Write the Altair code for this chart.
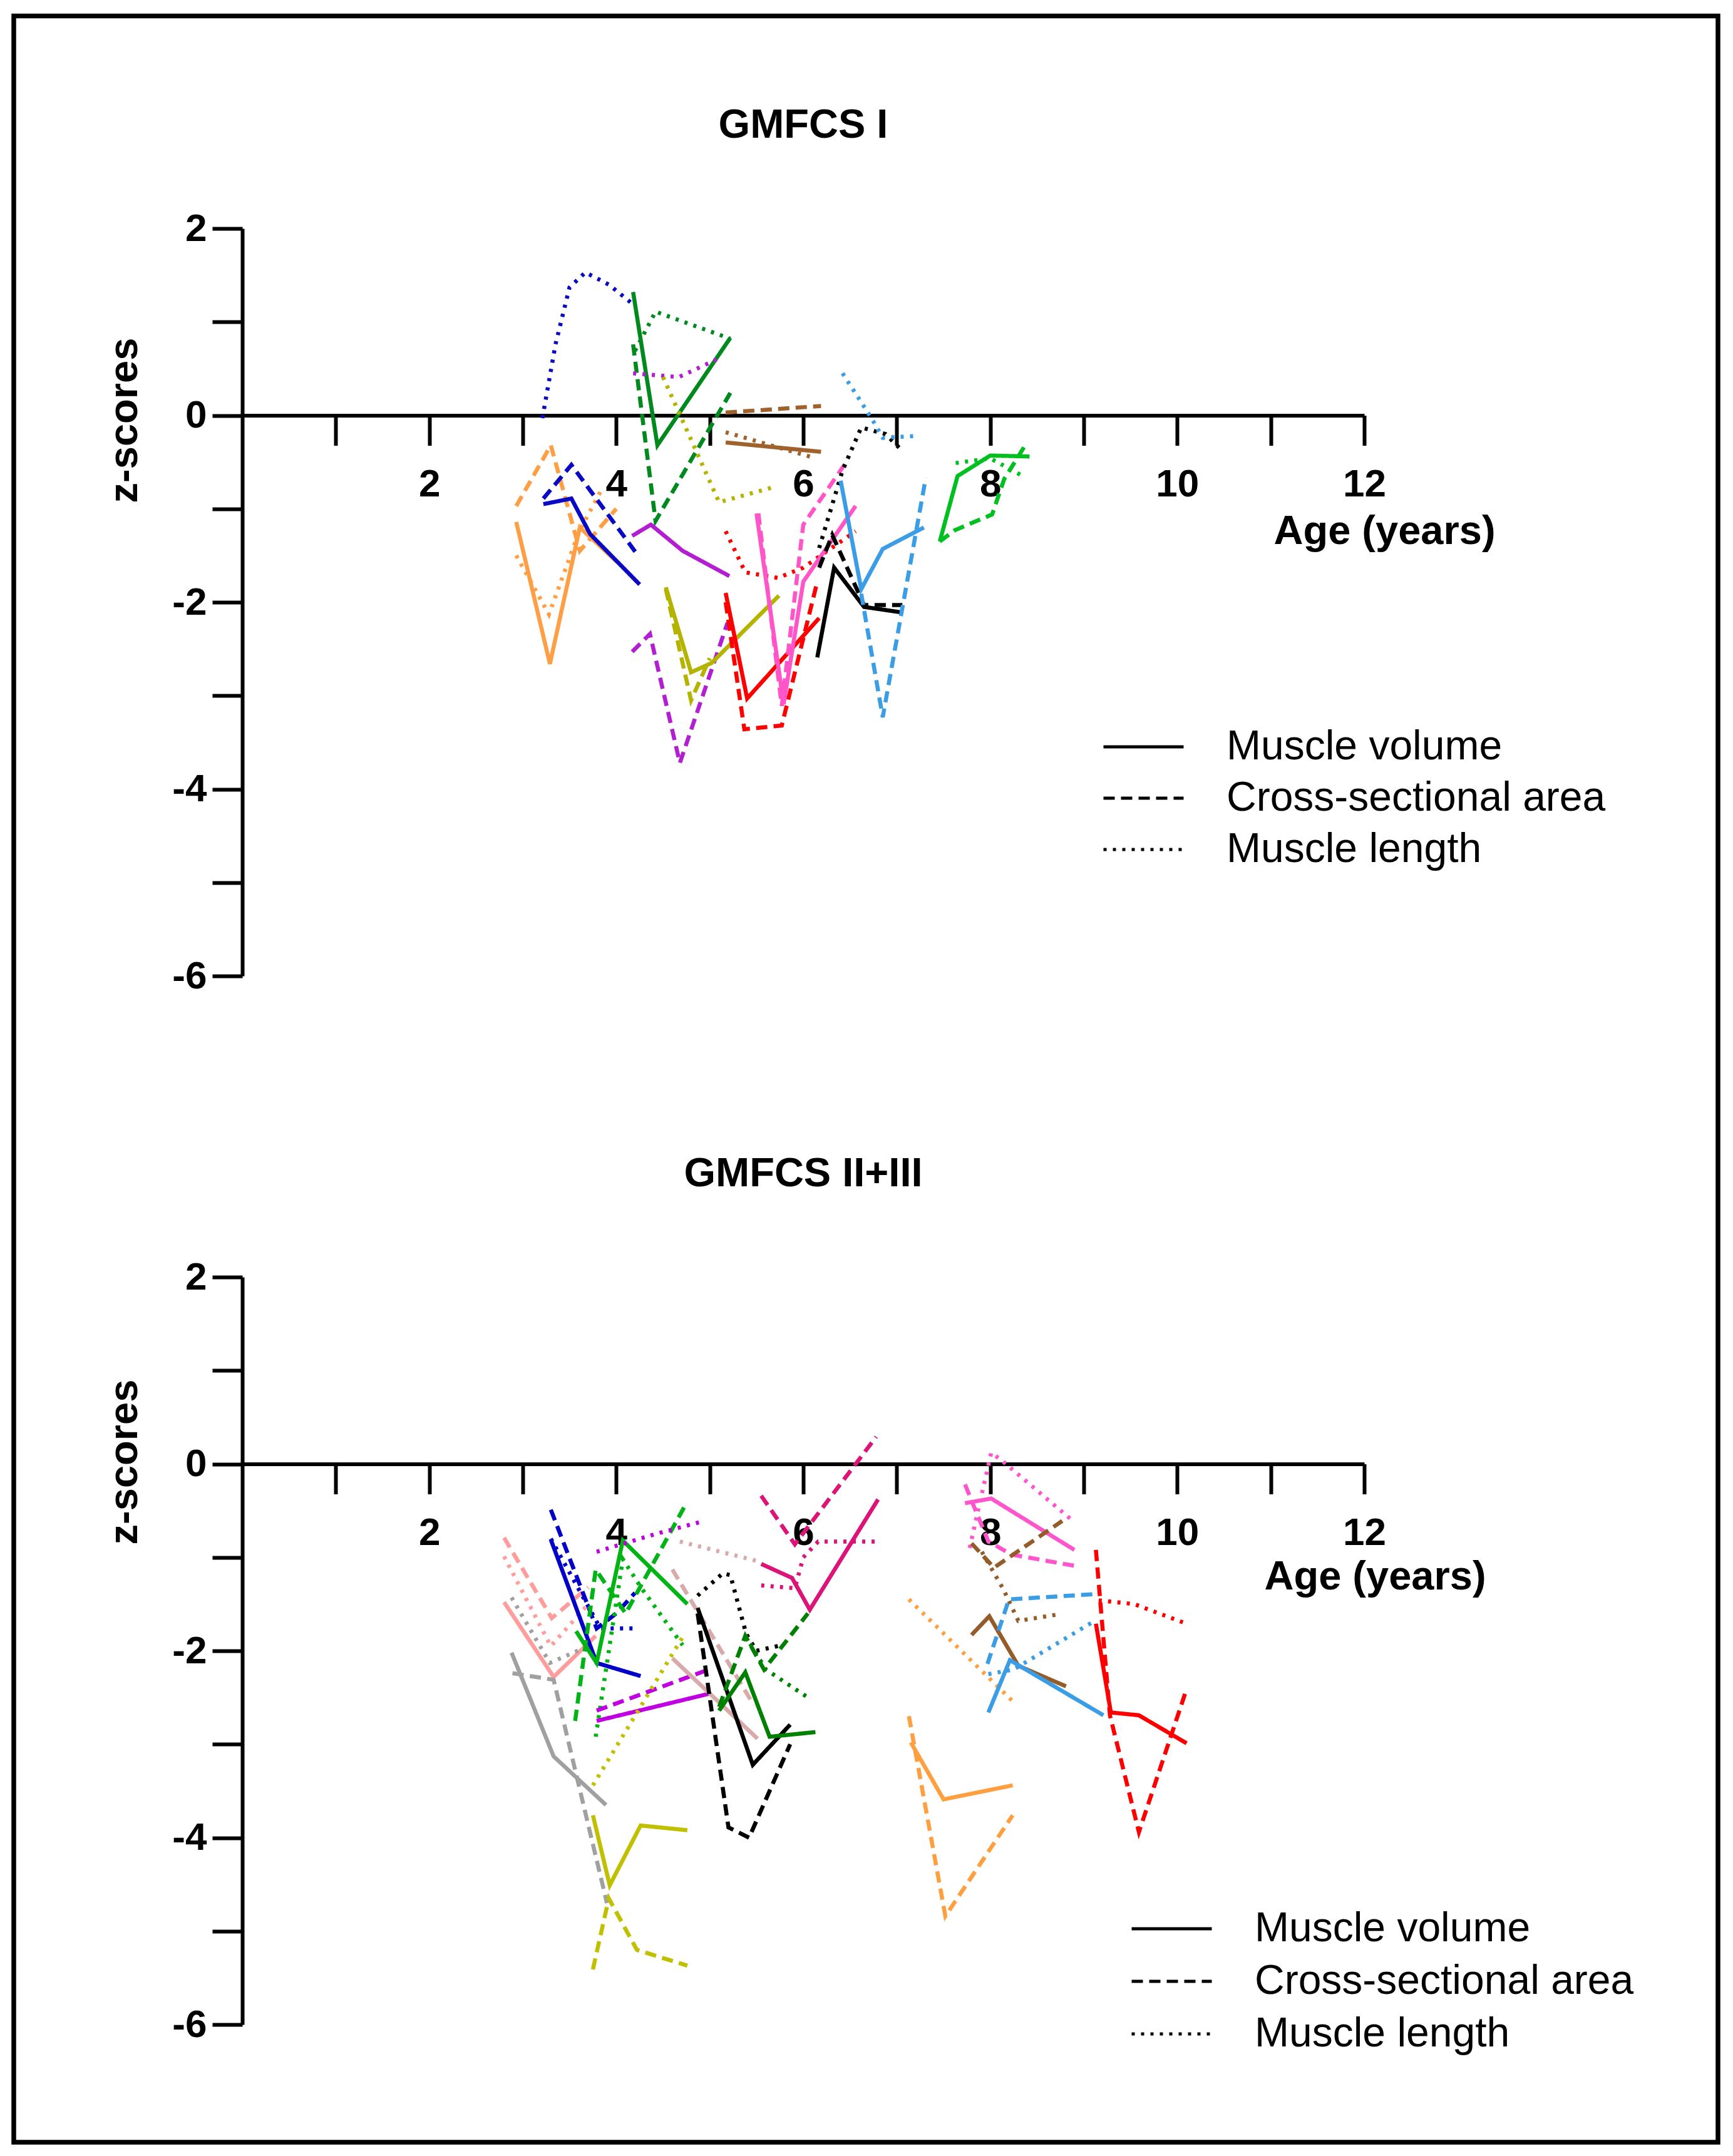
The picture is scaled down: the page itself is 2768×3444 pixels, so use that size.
import altair as alt
import pandas as pd

# ---------------- shared settings ----------------
MEASURES = ["Muscle volume", "Cross-sectional area", "Muscle length"]
DASHES = [[1, 0], [18, 10], [5, 10]]
AGE_DOMAIN = [0, 12]
Z_DOMAIN = [-6, 2]
X_TICKS = list(range(1, 13))
Y_TICKS = list(range(-6, 3))

# ---------------- GMFCS I (top panel) ----------------
# each list: [age (years), z-score]
g1_orange = "#ff9f45"
g1_orange_mv = [[2.93, -1.14], [3.29, -2.66], [3.61, -1.20], [4.01, -1.57]]
g1_orange_csa = [[2.93, -0.97], [3.30, -0.32], [3.61, -1.45], [4.00, -1.00]]
g1_orange_ml = [[2.93, -1.50], [3.28, -2.13], [3.60, -1.25], [3.84, -0.80]]

g1_navy = "#0a0ac4"
g1_navy_mv = [[3.22, -0.95], [3.52, -0.89], [3.72, -1.27], [4.25, -1.81]]
g1_navy_csa = [[3.22, -0.89], [3.52, -0.53], [4.24, -1.51]]
g1_navy_ml = [[3.21, -0.03], [3.35, 0.76], [3.50, 1.37], [3.67, 1.53], [3.92, 1.40], [4.19, 1.18]]

g1_dgreen = "#008a1e"
g1_dgreen_mv = [[4.18, 1.32], [4.44, -0.32], [5.22, 0.83]]
g1_dgreen_csa = [[4.18, 0.76], [4.42, -1.13], [5.22, 0.24]]
g1_dgreen_ml = [[4.20, 0.69], [4.42, 1.11], [5.22, 0.82]]

g1_purple = "#b41ed2"
g1_purple_mv = [[4.17, -1.29], [4.37, -1.17], [4.71, -1.45], [5.21, -1.72]]
g1_purple_csa = [[4.17, -2.53], [4.36, -2.34], [4.68, -3.72], [5.19, -2.22]]
g1_purple_ml = [[4.18, 0.45], [4.67, 0.41], [5.12, 0.62]]

g1_olive = "#b4b400"
g1_olive_mv = [[4.53, -1.84], [4.80, -2.75], [5.02, -2.65], [5.74, -1.93]]
g1_olive_csa = [[4.53, -1.86], [4.80, -3.05], [5.00, -2.60]]
g1_olive_ml = [[4.50, 0.41], [5.10, -0.93], [5.71, -0.76]]

g1_brown = "#a0622d"
g1_brown_mv = [[5.17, -0.29], [6.19, -0.39]]
g1_brown_csa = [[5.17, 0.03], [6.19, 0.10]]
g1_brown_ml = [[5.17, -0.18], [6.10, -0.45]]

g1_red = "#ff0000"
g1_red_mv = [[5.17, -1.90], [5.40, -3.03], [6.17, -2.17]]
g1_red_csa = [[5.17, -2.00], [5.37, -3.36], [5.77, -3.32], [6.15, -1.78]]
g1_red_ml = [[5.17, -1.24], [5.38, -1.68], [5.73, -1.74], [6.00, -1.63], [6.56, -1.24]]

g1_pink = "#ff55c8"
g1_pink_mv = [[5.50, -1.05], [5.79, -3.09], [6.00, -1.78], [6.56, -0.97]]
g1_pink_csa = [[5.52, -1.05], [5.77, -3.11], [6.00, -1.17], [6.46, -0.50]]
g1_pink_ml = []

g1_black = "#000000"
g1_black_mv = [[6.15, -2.59], [6.33, -1.63], [6.65, -2.05], [7.06, -2.11]]
g1_black_csa = [[6.17, -1.63], [6.31, -1.28], [6.65, -2.03], [7.06, -2.03]]
g1_black_ml = [[6.17, -1.42], [6.42, -0.59], [6.62, -0.13], [6.88, -0.20], [7.06, -0.38]]

g1_lblue = "#3a9de6"
g1_lblue_mv = [[6.40, -0.70], [6.62, -1.86], [6.85, -1.43], [7.29, -1.20]]
g1_lblue_csa = [[6.62, -1.91], [6.85, -3.23], [7.31, -0.67]]
g1_lblue_ml = [[6.42, 0.45], [6.73, -0.03], [6.85, -0.24], [7.23, -0.22]]

g1_green = "#00c020"
g1_green_mv = [[7.46, -1.35], [7.65, -0.65], [8.00, -0.43], [8.42, -0.44]]
g1_green_csa = [[7.46, -1.35], [7.62, -1.23], [8.02, -1.06], [8.15, -0.68], [8.38, -0.31]]
g1_green_ml = [[7.63, -0.51], [8.00, -0.46], [8.35, -0.65]]

# ---------------- GMFCS II+III (bottom panel) ----------------
g2_salmon = "#ff9c9c"
g2_salmon_mv = [[2.80, -1.48], [3.33, -2.28], [3.78, -1.84]]
g2_salmon_csa = [[2.80, -0.79], [3.31, -1.65], [3.70, -1.32]]
g2_salmon_ml = [[2.80, -0.99], [3.30, -1.95], [3.70, -1.50]]

g2_gray = "#a0a0a0"
g2_gray_mv = [[2.88, -2.02], [3.33, -3.13], [3.89, -3.65]]
g2_gray_csa = [[2.89, -2.24], [3.33, -2.31], [3.90, -4.70]]
g2_gray_ml = [[2.88, -1.43], [3.29, -2.13], [3.61, -1.99]]

g2_blue = "#0000c8"
g2_blue_mv = [[3.30, -0.81], [3.79, -2.13], [4.26, -2.27]]
g2_blue_csa = [[3.30, -0.49], [3.79, -1.76], [4.00, -1.60], [4.20, -1.38]]
g2_blue_ml = [[3.30, -0.80], [3.83, -1.76], [4.19, -1.76]]

g2_green = "#00b414"
g2_green_mv = [[3.57, -1.79], [3.79, -2.13], [4.07, -0.82], [4.76, -1.50]]
g2_green_csa = [[3.56, -2.75], [3.78, -1.13], [4.10, -1.60], [4.75, -0.42]]
g2_green_ml = [[3.78, -2.92], [4.07, -1.02], [4.27, -1.33], [4.71, -1.94]]

g2_purple = "#c000e0"
g2_purple_mv = [[3.79, -2.75], [4.99, -2.46]]
g2_purple_csa = [[3.79, -2.64], [4.99, -2.20]]
g2_purple_ml = [[3.79, -0.94], [4.42, -0.75], [4.94, -0.61]]

g2_olive = "#c0c000"
g2_olive_mv = [[3.75, -3.76], [3.93, -4.51], [4.26, -3.87], [4.76, -3.92]]
g2_olive_csa = [[3.75, -5.41], [3.92, -4.65], [4.22, -5.20], [4.76, -5.37]]
g2_olive_ml = [[3.75, -3.44], [4.73, -1.82]]

g2_rosy = "#d9aaaa"
g2_rosy_mv = [[4.60, -2.08], [5.51, -2.94]]
g2_rosy_csa = [[4.60, -1.13], [5.47, -2.58]]
g2_rosy_ml = [[4.68, -0.83], [5.55, -1.05]]

g2_black = "#000000"
g2_black_mv = [[4.87, -1.54], [5.46, -3.22], [5.86, -2.79]]
g2_black_csa = [[4.87, -1.60], [5.20, -3.89], [5.42, -4.00], [5.86, -3.00]]
g2_black_ml = [[4.87, -1.41], [5.14, -1.17], [5.22, -1.19], [5.39, -1.82], [5.50, -2.00], [5.77, -1.94]]

g2_dgreen = "#008000"
g2_dgreen_mv = [[5.10, -2.64], [5.38, -2.23], [5.64, -2.92], [6.13, -2.87]]
g2_dgreen_csa = [[5.10, -2.60], [5.38, -1.84], [5.58, -2.20], [6.05, -1.60]]
g2_dgreen_ml = [[5.38, -1.84], [5.60, -2.20], [6.05, -2.50]]

g2_crimson = "#dc1478"
g2_crimson_mv = [[5.55, -1.07], [5.88, -1.22], [6.07, -1.56], [6.80, -0.38]]
g2_crimson_csa = [[5.55, -0.34], [5.91, -0.86], [6.78, 0.29]]
g2_crimson_ml = [[5.55, -1.30], [5.91, -1.33], [6.00, -1.00], [6.16, -0.83], [6.78, -0.83]]

g2_orange = "#ff9f40"
g2_orange_mv = [[7.15, -2.98], [7.50, -3.59], [8.24, -3.44]]
g2_orange_csa = [[7.13, -2.70], [7.52, -4.84], [8.24, -3.76]]
g2_orange_ml = [[7.13, -1.45], [8.23, -2.53]]

g2_pink = "#ff55cc"
g2_pink_mv = [[7.73, -0.42], [8.01, -0.37], [8.90, -0.92]]
g2_pink_csa = [[7.73, -0.22], [7.98, -0.83], [8.23, -0.97], [8.90, -1.09]]
g2_pink_ml = [[7.78, -0.90], [7.88, -0.45], [8.01, 0.12], [8.12, 0.04], [8.86, -0.59]]

g2_brown = "#935c28"
g2_brown_mv = [[7.80, -1.83], [7.99, -1.63], [8.30, -2.16], [8.81, -2.38]]
g2_brown_csa = [[7.80, -0.85], [8.04, -1.11], [8.77, -0.61]]
g2_brown_ml = [[7.91, -0.94], [8.14, -1.34], [8.30, -1.68], [8.73, -1.61]]

g2_lblue = "#3a9de6"
g2_lblue_mv = [[7.98, -2.66], [8.21, -2.10], [9.21, -2.69]]
g2_lblue_csa = [[7.97, -2.14], [8.20, -1.45], [9.17, -1.39]]
g2_lblue_ml = [[7.98, -2.25], [8.25, -2.20], [9.10, -1.69]]

g2_red = "#ff0000"
g2_red_mv = [[9.13, -1.71], [9.29, -2.66], [9.59, -2.69], [10.10, -2.99]]
g2_red_csa = [[9.13, -0.92], [9.28, -2.69], [9.59, -3.94], [10.10, -2.41]]
g2_red_ml = [[9.16, -1.46], [9.54, -1.50], [10.10, -1.71]]

GMFCS_I = [
    ("orange", g1_orange, g1_orange_mv, g1_orange_csa, g1_orange_ml),
    ("navy", g1_navy, g1_navy_mv, g1_navy_csa, g1_navy_ml),
    ("dgreen", g1_dgreen, g1_dgreen_mv, g1_dgreen_csa, g1_dgreen_ml),
    ("purple", g1_purple, g1_purple_mv, g1_purple_csa, g1_purple_ml),
    ("olive", g1_olive, g1_olive_mv, g1_olive_csa, g1_olive_ml),
    ("brown", g1_brown, g1_brown_mv, g1_brown_csa, g1_brown_ml),
    ("red", g1_red, g1_red_mv, g1_red_csa, g1_red_ml),
    ("pink", g1_pink, g1_pink_mv, g1_pink_csa, g1_pink_ml),
    ("black", g1_black, g1_black_mv, g1_black_csa, g1_black_ml),
    ("lblue", g1_lblue, g1_lblue_mv, g1_lblue_csa, g1_lblue_ml),
    ("green", g1_green, g1_green_mv, g1_green_csa, g1_green_ml),
]
GMFCS_II_III = [
    ("salmon", g2_salmon, g2_salmon_mv, g2_salmon_csa, g2_salmon_ml),
    ("gray", g2_gray, g2_gray_mv, g2_gray_csa, g2_gray_ml),
    ("blue", g2_blue, g2_blue_mv, g2_blue_csa, g2_blue_ml),
    ("green", g2_green, g2_green_mv, g2_green_csa, g2_green_ml),
    ("purple", g2_purple, g2_purple_mv, g2_purple_csa, g2_purple_ml),
    ("olive", g2_olive, g2_olive_mv, g2_olive_csa, g2_olive_ml),
    ("rosy", g2_rosy, g2_rosy_mv, g2_rosy_csa, g2_rosy_ml),
    ("black", g2_black, g2_black_mv, g2_black_csa, g2_black_ml),
    ("dgreen", g2_dgreen, g2_dgreen_mv, g2_dgreen_csa, g2_dgreen_ml),
    ("crimson", g2_crimson, g2_crimson_mv, g2_crimson_csa, g2_crimson_ml),
    ("orange", g2_orange, g2_orange_mv, g2_orange_csa, g2_orange_ml),
    ("pink", g2_pink, g2_pink_mv, g2_pink_csa, g2_pink_ml),
    ("brown", g2_brown, g2_brown_mv, g2_brown_csa, g2_brown_ml),
    ("lblue", g2_lblue, g2_lblue_mv, g2_lblue_csa, g2_lblue_ml),
    ("red", g2_red, g2_red_mv, g2_red_csa, g2_red_ml),
]


def to_frame(subjects):
    rows = []
    for name, col, mv, csa, ml in subjects:
        for measure, pts in zip(MEASURES, (mv, csa, ml)):
            for i, (a, z) in enumerate(pts):
                rows.append({"line": f"{name}|{measure}", "color": col,
                             "measure": measure, "idx": i, "age": a, "z": z})
    return pd.DataFrame(rows)


# ---------------- geometry / style ----------------
W, H = 1792, 1194
FONT = "Liberation Sans"
FRAME_GAP = 100  # horizontal gap between the (1px) frame holder and the panels


def x_axis(tx, ty):
    return alt.Axis(
        values=X_TICKS,
        labelExpr="datum.value % 2 === 0 ? '' + datum.value : ''",
        offset=-H * 6 / 8, grid=False,
        tickSize=48, tickWidth=6, tickColor="black",
        domainWidth=6, domainColor="black",
        labelFont=FONT, labelFontSize=62, labelFontWeight="bold", labelColor="black",
        labelPadding=32, labelFlush=False, labelOverlap=False,
        title="Age (years)", titleFont=FONT, titleFontSize=65, titleFontWeight="bold",
        titleColor="black", titleX=tx, titleY=ty, titleAlign="center", titleBaseline="middle",
    )


def y_axis(tx, ty):
    return alt.Axis(
        values=Y_TICKS,
        labelExpr="datum.value % 2 === 0 ? '' + datum.value : ''",
        grid=False,
        tickSize=48, tickWidth=6, tickColor="black",
        domainWidth=6, domainColor="black",
        labelFont=FONT, labelFontSize=62, labelFontWeight="bold", labelColor="black",
        labelPadding=9, labelOverlap=False,
        title="z-scores", titleFont=FONT, titleFontSize=65, titleFontWeight="bold",
        titleColor="black", titleX=tx, titleY=ty, titleAlign="center", titleBaseline="middle",
    )


def panel(subjects, title, leg_x, leg_y, leg_h, ytx, yty, xtx, xty):
    df = to_frame(subjects)
    return alt.Chart(
        df,
        title=alt.TitleParams(title, font=FONT, fontSize=65, fontWeight="bold",
                              color="black", anchor="middle", frame="group", offset=100),
    ).mark_line(strokeWidth=6.5, strokeCap="butt", clip=False).encode(
        x=alt.X("age:Q", scale=alt.Scale(domain=AGE_DOMAIN, nice=False, zero=False),
                axis=x_axis(xtx, xty)),
        y=alt.Y("z:Q", scale=alt.Scale(domain=Z_DOMAIN, nice=False, zero=False),
                axis=y_axis(ytx, yty)),
        color=alt.Color("color:N", scale=None),
        strokeDash=alt.StrokeDash(
            "measure:N",
            scale=alt.Scale(domain=MEASURES, range=DASHES),
            sort=MEASURES,
            legend=alt.Legend(
                orient="none", legendX=leg_x, legendY=leg_y, title=None,
                symbolType="stroke", symbolSize=128 * 128, symbolStrokeColor="black",
                symbolStrokeWidth=5, labelFont=FONT, labelFontSize=66,
                labelColor="black", labelOffset=66, labelLimit=0,
                clipHeight=leg_h, rowPadding=0, padding=0,
            ),
        ),
        detail="line:N",
        order="idx:Q",
    ).properties(width=W, height=H)


top = panel(GMFCS_I, "GMFCS I", 1373, 787, 82, -189, 306, 1824, 184.5)
bottom = panel(GMFCS_II_III, "GMFCS II+III", 1418, 999, 84, -189, 295, 1809, 180)

inner = alt.vconcat(top, bottom, spacing=481, bounds="flush").resolve_scale(
    color="independent", strokeDash="independent"
).resolve_legend(strokeDash="independent")

# outer figure frame (decoration around both panels), held by a 1px view left of the panels
off = 1 + FRAME_GAP
frame = alt.Chart(pd.DataFrame({"frame": [1]})).mark_rect(
    filled=False, stroke="black", strokeWidth=7.5
).encode(
    x=alt.value(-365 + off), x2=alt.value(2357 + off),
    y=alt.value(-339.5), y2=alt.value(3057)
).properties(width=1, height=1)

chart = alt.hconcat(frame, inner, spacing=FRAME_GAP, bounds="flush").properties(
    padding={"left": 10, "top": 13, "right": 0, "bottom": 0}
).configure(font=FONT).configure_view(stroke=None)

chart.save("out.html", embed_options={"renderer": "svg", "actions": False})
